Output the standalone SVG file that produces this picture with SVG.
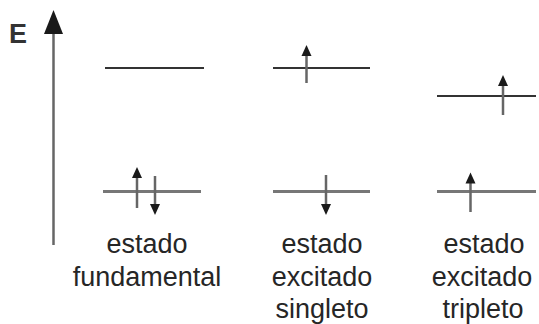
<svg xmlns="http://www.w3.org/2000/svg" width="539" height="324" viewBox="0 0 539 324">
  <style>
    .lbl { font-family: "Liberation Sans", Arial, sans-serif; font-size: 27px; fill: #262626; text-anchor: middle; }
    .axis-lbl { font-family: "Liberation Sans", Arial, sans-serif; font-size: 27px; font-weight: bold; fill: #333; }
    .upper { stroke: #333; stroke-width: 2; }
    .lower { stroke: #777; stroke-width: 3; }
    .spin { stroke: #666; stroke-width: 2.5; }
    .head { fill: #1a1a1a; }
  </style>
  <rect width="539" height="324" fill="#fff"/>

  <!-- energy axis -->
  <g id="axis">
    <line x1="53.5" y1="30" x2="53.5" y2="245" stroke="#666" stroke-width="2.5"/>
    <polygon class="head" points="53.5,10 44,34 63,34"/>
    <text class="axis-lbl" x="9" y="43">E</text>
  </g>

  <!-- ground state: paired spins in lower level -->
  <g id="fundamental">
    <line class="upper" x1="105" y1="68" x2="204" y2="68"/>
    <line class="lower" x1="103" y1="191.5" x2="201" y2="191.5"/>
    <line class="spin" x1="137" y1="176" x2="137" y2="208"/>
    <polygon class="head" points="137,167 132,178 142,178"/>
    <line class="spin" x1="155" y1="176" x2="155" y2="206"/>
    <polygon class="head" points="155,215 150,204 160,204"/>
    <text class="lbl" x="147" y="253">estado</text>
    <text class="lbl" x="147" y="286">fundamental</text>
  </g>

  <!-- excited singlet -->
  <g id="singleto">
    <line class="upper" x1="273" y1="68" x2="370" y2="68"/>
    <line class="lower" x1="273" y1="191.5" x2="370" y2="191.5"/>
    <line class="spin" x1="306.5" y1="53" x2="306.5" y2="83"/>
    <polygon class="head" points="306.5,45 301.5,56 311.5,56"/>
    <line class="spin" x1="326" y1="175" x2="326" y2="206"/>
    <polygon class="head" points="326,215 321,204 331,204"/>
    <text class="lbl" x="322" y="253">estado</text>
    <text class="lbl" x="322" y="286">excitado</text>
    <text class="lbl" x="322" y="318">singleto</text>
  </g>

  <!-- excited triplet -->
  <g id="tripleto">
    <line class="upper" x1="437" y1="96" x2="536" y2="96"/>
    <line class="lower" x1="437" y1="191.5" x2="536" y2="191.5"/>
    <line class="spin" x1="503" y1="83" x2="503" y2="115"/>
    <polygon class="head" points="503,75 498,86 508,86"/>
    <line class="spin" x1="470.5" y1="181" x2="470.5" y2="212"/>
    <polygon class="head" points="470.5,172.5 465.5,183.5 475.5,183.5"/>
    <text class="lbl" x="484" y="253">estado</text>
    <text class="lbl" x="482" y="286">excitado</text>
    <text class="lbl" x="483" y="318">tripleto</text>
  </g>
</svg>
